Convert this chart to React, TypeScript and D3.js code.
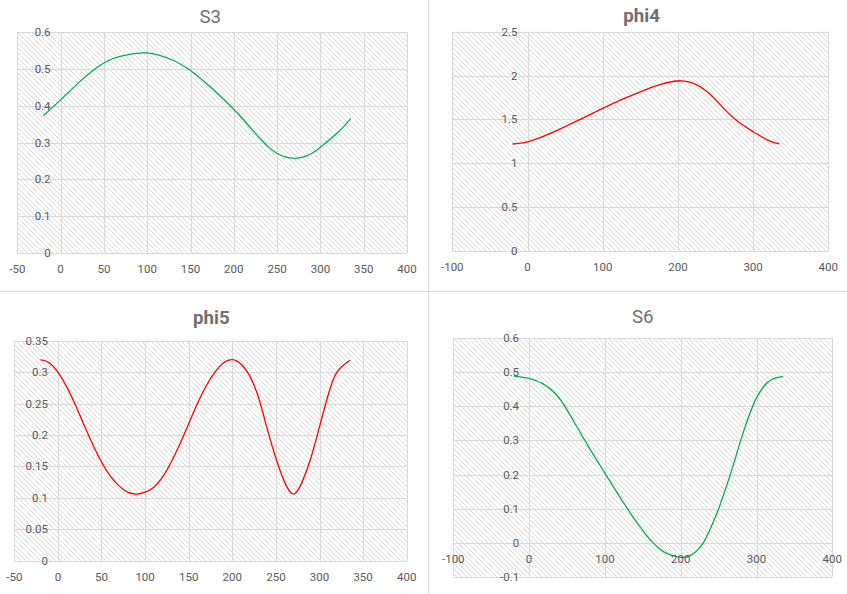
import React from "react";
import * as d3 from "d3";

// ---------- data ----------
const s3X = [-20, 0, 20, 40, 60, 80, 95, 110, 130, 150, 170, 200, 220, 240, 250, 260, 270, 280, 290, 300, 320, 335];
const s3Y = [0.373, 0.416, 0.461, 0.501, 0.528, 0.540, 0.544, 0.540, 0.524, 0.496, 0.457, 0.390, 0.338, 0.288, 0.270, 0.260, 0.257, 0.260, 0.270, 0.287, 0.327, 0.365];

const phi4X = [-20, 0, 25, 50, 75, 100, 125, 150, 175, 195, 205, 220, 240, 260, 280, 300, 320, 335];
const phi4Y = [1.22, 1.245, 1.32, 1.417, 1.52, 1.625, 1.725, 1.815, 1.893, 1.935, 1.94, 1.915, 1.81, 1.635, 1.475, 1.36, 1.262, 1.22];

const phi5X = [-20, -10, 0, 10, 20, 30, 40, 50, 60, 70, 80, 90, 100, 110, 120, 130, 140, 150, 160, 170, 180, 190, 200, 210, 220, 230, 240, 250, 260, 270, 280, 290, 300, 310, 320, 335];
const phi5Y = [0.32, 0.315, 0.3, 0.277, 0.248, 0.216, 0.185, 0.157, 0.135, 0.119, 0.109, 0.106, 0.109, 0.117, 0.133, 0.157, 0.186, 0.218, 0.25, 0.278, 0.3, 0.315, 0.32, 0.313, 0.294, 0.26, 0.21, 0.163, 0.125, 0.106, 0.125, 0.163, 0.213, 0.264, 0.3, 0.319];

const s6X = [-20, 0, 20, 40, 60, 80, 100, 120, 140, 160, 180, 200, 210, 220, 230, 240, 250, 260, 270, 280, 290, 300, 310, 320, 335];
const s6Y = [0.489, 0.482, 0.464, 0.424, 0.352, 0.276, 0.204, 0.133, 0.066, 0.008, -0.03, -0.043, -0.041, -0.027, 0.0, 0.045, 0.099, 0.163, 0.232, 0.306, 0.372, 0.425, 0.46, 0.479, 0.488];

const xTicks50 = [-50, 0, 50, 100, 150, 200, 250, 300, 350, 400];
const xTicks100 = [-100, 0, 100, 200, 300, 400];
const s3YTicks = [0, 0.1, 0.2, 0.3, 0.4, 0.5, 0.6];
const phi4YTicks = [0, 0.5, 1, 1.5, 2, 2.5];
const phi5YTicks = [0, 0.05, 0.1, 0.15, 0.2, 0.25, 0.3, 0.35];
const s6YTicks = [-0.1, 0, 0.1, 0.2, 0.3, 0.4, 0.5, 0.6];

const GREEN = "#00b050";
const RED = "#ff0000";
const GRID = "#d9d9d9";
const LABEL = "#595959";
const TITLE = "#707070";
const FONT = "Roboto, 'Liberation Sans', sans-serif";

type PanelProps = {
  title: string;
  bold: boolean;
  titleX: number;
  titleY: number;
  box: [number, number, number, number]; // left, top, right, bottom
  xs: number[];
  ys: number[];
  xTicks: number[];
  yTicks: number[];
  color: string;
};

const fmt = (v: number) => String(+v.toFixed(3));
const snap = (v: number) => Math.round(v) + 0.5;

function Panel({ title, bold, titleX, titleY, box, xs, ys, xTicks, yTicks, color }: PanelProps) {
  const [l, t, r, b] = box;
  const x = d3.scaleLinear().domain([xTicks[0], xTicks[xTicks.length - 1]]).range([l, r]);
  const y = d3.scaleLinear().domain([yTicks[0], yTicks[yTicks.length - 1]]).range([b, t]);
  const pts: [number, number][] = xs.map((v, i) => [v, ys[i]]);
  const line = d3
    .line<[number, number]>()
    .x((d) => x(d[0]))
    .y((d) => y(d[1]))
    .curve(d3.curveNatural);
  const x0 = x(0);
  const y0 = y(0);
  return (
    <g>
      <text x={titleX} y={titleY} textAnchor="middle" fontFamily={FONT} fontSize={18.7} fontWeight={bold ? 700 : 400} fill={TITLE}>
        {title}
      </text>
      <rect x={l} y={t} width={r - l} height={b - t} fill="url(#hatch)" />
      {yTicks.map((v) => (
        <line key={"gy" + v} x1={l} x2={r} y1={snap(y(v))} y2={snap(y(v))} stroke={GRID} strokeWidth={1} />
      ))}
      {xTicks.map((v) => (
        <line key={"gx" + v} x1={snap(x(v))} x2={snap(x(v))} y1={t} y2={b} stroke={GRID} strokeWidth={1} />
      ))}
      <path d={line(pts) || ""} fill="none" stroke={color} strokeWidth={1.3} />
      {yTicks.map((v) => (
        <text key={"ty" + v} x={x0 - 10} y={y(v)} dy="0.35em" textAnchor="end" fontFamily={FONT} fontSize={11.5} fill={LABEL}>
          {fmt(v)}
        </text>
      ))}
      {xTicks.map((v) => (
        <text key={"tx" + v} x={x(v)} y={y0 + 16} dy="0.35em" textAnchor="middle" fontFamily={FONT} fontSize={11.5} fill={LABEL}>
          {fmt(v)}
        </text>
      ))}
    </g>
  );
}

export default function App() {
  return (
    <svg width={847} height={594} style={{ position: "absolute", left: 0, top: 0, background: "#fff" }}>
      <defs>
        <pattern id="hatch" width={5} height={5} patternUnits="userSpaceOnUse">
          <path d="M-1,-1 L6,6 M-1,4 L1,6 M4,-1 L6,1" stroke="#dadada" strokeWidth={1} />
        </pattern>
      </defs>
      <rect x={0} y={0} width={847} height={594} fill="#fff" />
      <line x1={428.5} x2={428.5} y1={0} y2={594} stroke={GRID} />
      <line x1={0} x2={847} y1={291.5} y2={291.5} stroke={GRID} />
      <Panel title="S3" bold={false} titleX={210.3} titleY={22.7} box={[17.3, 32.3, 407, 252.7]} xs={s3X} ys={s3Y} xTicks={xTicks50} yTicks={s3YTicks} color={GREEN} />
      <Panel title="phi4" bold={true} titleX={641.7} titleY={21.5} box={[452.3, 31.7, 828.3, 251]} xs={phi4X} ys={phi4Y} xTicks={xTicks100} yTicks={phi4YTicks} color={RED} />
      <Panel title="phi5" bold={true} titleX={211.3} titleY={324.3} box={[14.3, 340.7, 406.7, 560.7]} xs={phi5X} ys={phi5Y} xTicks={xTicks50} yTicks={phi5YTicks} color={RED} />
      <Panel title="S6" bold={false} titleX={642.8} titleY={322.7} box={[453.3, 338.3, 832.3, 576.7]} xs={s6X} ys={s6Y} xTicks={xTicks100} yTicks={s6YTicks} color={GREEN} />
    </svg>
  );
}
